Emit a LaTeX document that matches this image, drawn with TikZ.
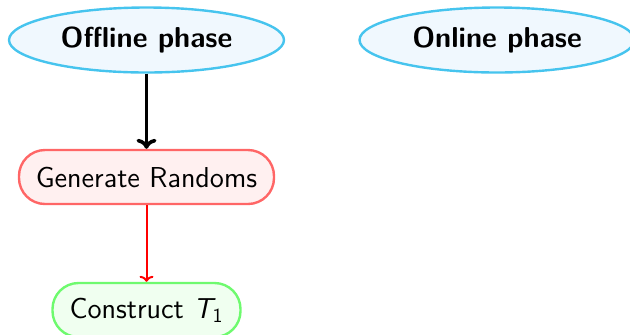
\documentclass[tikz,border=0pt]{standalone}
\usepackage{amsmath}
\usetikzlibrary{shapes.geometric,arrows.meta}
\definecolor{phaseline}{RGB}{70,196,238}
\definecolor{phasefill}{RGB}{240,248,254}
\definecolor{redline}{RGB}{255,102,102}
\definecolor{redfill}{RGB}{255,240,240}
\definecolor{greenline}{RGB}{110,250,110}
\definecolor{greenfill}{RGB}{240,255,240}
\tikzset{
  phase/.style={ellipse, draw=phaseline, fill=phasefill, line width=1.2pt,
    minimum width=137.5pt, minimum height=32.5pt, inner sep=0pt,
    font=\sffamily\bfseries\Large},
  stepbox/.style={rounded corners=13pt, line width=1.2pt, minimum height=27pt,
    inner sep=0pt, font=\sffamily\Large},
}
\begin{document}
\begin{tikzpicture}[x=0.5pt,y=-0.5pt]
  \useasboundingbox (0,0) rectangle (630,334);
  \node[phase] (off) at (146.5,40) {Offline phase};
  \node[phase] (on) at (497,40) {Online phase};
  \node[stepbox, draw=redline, fill=redfill, minimum width=127.5pt] (gen) at (146.5,177) {Generate Randoms};
  \node[stepbox, draw=greenline, fill=greenfill, minimum width=94pt] (con) at (146.5,310) {Construct $\textsf{\itshape T}_{\textsf{1}}$};
  \draw[line width=1.8pt, -{To[length=5pt,width=10pt]}] (off) -- (gen);
  \draw[red, line width=1pt, -{To[length=3pt,width=7pt]}] (gen) -- (con);
\end{tikzpicture}
\end{document}
